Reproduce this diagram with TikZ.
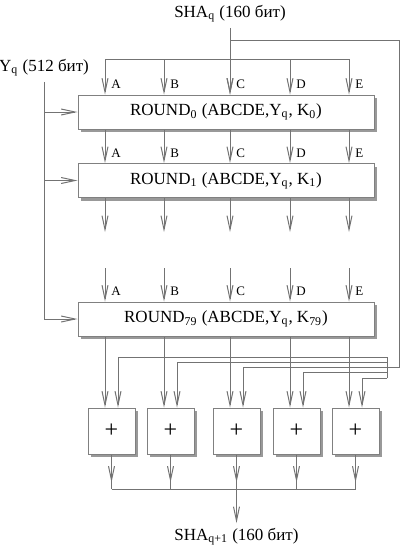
\documentclass[tikz,border=0pt]{standalone}
\usepackage{fontspec}
\setmainfont{Liberation Serif}
\usetikzlibrary{positioning,arrows.meta,shadows}

\tikzset{
  wire/.style={draw=black!55, line width=0.5pt},
  arr/.style={wire, -{Straight Barb[length=7pt,width=3pt]}},
  txt/.style={font=\fontsize{8.5}{10}\selectfont, inner sep=2.5pt},
  lbl/.style={font=\fontsize{6.5}{8}\selectfont, inner sep=0pt, anchor=west},
  roundbox/.style={draw=black!50, fill=white, line width=0.5pt, inner sep=0pt,
    minimum width=148pt, minimum height=17pt, font=\fontsize{8.5}{10}\selectfont,
    general shadow={fill=black!40, shadow xshift=1.5pt, shadow yshift=-1.5pt}},
  addbox/.style={roundbox, minimum width=23.5pt, minimum height=23pt,
    font=\fontsize{12}{12}\selectfont}
}

\begin{document}
\begin{tikzpicture}[x=0.5pt, y=-0.5pt]
  \useasboundingbox (0,0) rectangle (400,552);

  % Inputs
  \node[txt] (shain) at (230,14) {SHA\textsubscript{q} (160 бит)};
  \node[txt] (yin) at (44,68) {Y\textsubscript{q} (512 бит)};

  % Rounds
  \node[roundbox] (r0) at (226,112) {ROUND\textsubscript{0} (ABCDE,Y\textsubscript{q}, K\textsubscript{0})};
  \node[roundbox] (r1) at (226,180.5) {ROUND\textsubscript{1} (ABCDE,Y\textsubscript{q}, K\textsubscript{1})};
  \node[roundbox] (r79) at (226,319) {ROUND\textsubscript{79} (ABCDE,Y\textsubscript{q}, K\textsubscript{79})};

  % Adders
  \foreach \n/\x in {1/111.5, 2/170.5, 3/236.5, 4/296.5, 5/355.5} {
    \node[addbox] (s\n) at (\x,431) {+};
  }

  \node[txt] (shaout) at (236.5,537) {SHA\textsubscript{q+1} (160 бит)};

  % Column positions and helpers
  \foreach \c/\x in {A/105, B/164, C/230, D/290, E/349} {
    \coordinate (col\c) at (\x,59);
  }
  \coordinate (cut) at (0,232);
  \coordinate (gap) at (0,268);
  \coordinate (tap) at (230,40);
  \coordinate (fbtop) at (399,40);
  \coordinate (fbbot) at (399,367);
  \coordinate (fbend) at (387,367);
  \foreach \n/\y in {1/357, 2/362, 3/367, 4/372, 5/378} {
    \coordinate (fb\n) at (387,\y);
  }
  \coordinate (jn) at (236.5,489);

  % Input of SHA_q
  \draw[wire] (colA) -- (colE);
  \draw[arr] (shain.south) -- (r0.north -| colC);
  \draw[wire] (tap) -- (fbtop) -- (fbbot) -- (fbend);

  % Input of Y_q
  \draw[arr] (yin.south) |- (r79.west);
  \foreach \r in {r0, r1} {
    \draw[arr] (yin.south |- \r.west) -- (\r.west);
  }

  % Words A..E through the rounds
  \foreach \c in {A, B, C, D, E} {
    \draw[arr] (col\c) -- (r0.north -| col\c);
    \draw[arr] (r0.south -| col\c) -- (r1.north -| col\c);
    \draw[arr] (r1.south -| col\c) -- (col\c |- cut);
    \draw[arr] (col\c |- gap) -- (r79.north -| col\c);
    \foreach \r in {r0, r1, r79} {
      \node[lbl] (l\r\c) at ([xshift=3pt, yshift=5pt]\r.north -| col\c) {\c};
    }
  }

  % Into the adders
  \draw[wire] (fb1) -- (fb5);
  \foreach \c/\n in {A/1, B/2, C/3, D/4, E/5} {
    \draw[arr] (r79.south -| col\c) -- (col\c |- s\n.north);
    \draw[arr] (fb\n) -| ([xshift=3.25pt]s\n.north);
  }

  % Output
  \draw[wire] (s1.south |- jn) -- (s5.south |- jn);
  \foreach \n in {1,...,5} {
    \draw[wire] (s\n.south) -- (s\n.south |- jn);
    \draw[arr] (s\n.south) -- ++(0,28);
  }
  \draw[arr] (jn) -- (shaout.north);

\end{tikzpicture}
\end{document}
